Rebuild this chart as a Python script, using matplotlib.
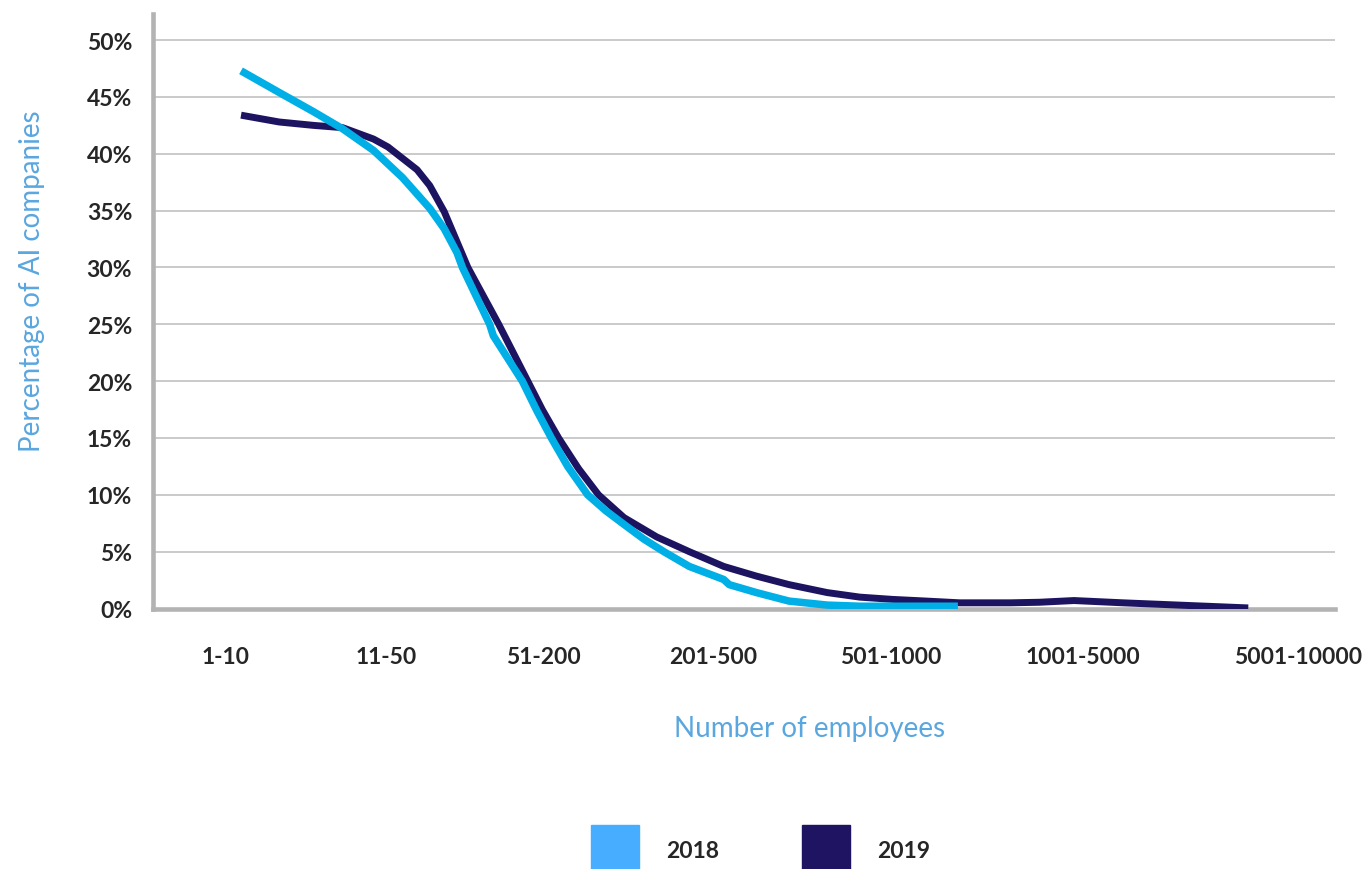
import matplotlib
matplotlib.use('Agg')
import matplotlib.pyplot as plt
from matplotlib.patches import Rectangle

plt.rcParams['font.family'] = ['Lato', 'DejaVu Sans']

# data (x in category-spacing units, y in %)
x_2018 = [0.00, 0.21, 0.40, 0.56, 0.73, 0.89, 1.04, 1.12, 1.19, 1.22, 1.37, 1.39,
          1.55, 1.63, 1.71, 1.80, 1.91, 2.01, 2.11, 2.22, 2.33, 2.47, 2.66, 2.69,
          2.84, 3.02, 3.23, 3.41, 3.95]
y_2018 = [47.3, 45.4, 43.7, 42.2, 40.3, 37.9, 35.2, 33.4, 31.3, 30.0, 25.0, 24.0,
          20.0, 17.4, 15.0, 12.5, 10.0, 8.6, 7.4, 6.1, 5.0, 3.7, 2.55, 2.1,
          1.4, 0.65, 0.3, 0.2, 0.2]

x_2019 = [0.00, 0.21, 0.40, 0.56, 0.73, 0.81, 0.89, 0.97, 1.04, 1.12, 1.25, 1.42,
          1.58, 1.66, 1.75, 1.86, 1.97, 2.11, 2.29, 2.47, 2.66, 2.84, 3.02, 3.23,
          3.41, 3.59, 3.78, 3.96, 4.24, 4.40, 4.59, 4.86, 5.55]
y_2019 = [43.4, 42.8, 42.5, 42.3, 41.3, 40.6, 39.6, 38.6, 37.2, 34.9, 30.0, 25.0,
          20.0, 17.5, 15.0, 12.3, 10.0, 8.0, 6.3, 5.0, 3.7, 2.85, 2.1, 1.4,
          1.0, 0.8, 0.65, 0.5, 0.5, 0.55, 0.7, 0.5, 0.05]

categories = ['1-10', '11-50', '51-200', '201-500', '501-1000', '1001-5000', '5001-10000']
years = ['2018', '2019']

W, H = 1370, 870
fig = plt.figure(figsize=(W / 100, H / 100), dpi=100)
ax = fig.add_axes([153 / W, 1 - 609.5 / H, (1335 - 153) / W, (609.5 - 15) / H])

ax.plot(x_2019, y_2019, color='#1d1461', lw=5.0, solid_capstyle='butt',
        solid_joinstyle='round', zorder=3)
ax.plot(x_2018, y_2018, color='#00afe6', lw=5.4, solid_capstyle='butt',
        solid_joinstyle='round', zorder=4)

ax.set_xlim(-0.485, 6.028)
ax.set_ylim(0, 52.3)

# label positions along the axis (hand placed in the original)
tick_pos = [-0.083, 0.799, 1.669, 2.601, 3.581, 4.639, 5.824]
ax.set_xticks(tick_pos)
ax.set_xticklabels(categories)
ax.set_yticks(range(0, 51, 5))
ax.set_yticklabels([f'{v}%' for v in range(0, 51, 5)])
ax.tick_params(length=0, labelsize=16.5, colors='#262626')
ax.tick_params(axis='y', pad=15)
ax.tick_params(axis='x', pad=27)
for lab in ax.get_xticklabels() + ax.get_yticklabels():
    lab.set_fontweight('bold')

ax.grid(axis='y', color='#c6c6c6', lw=1.3)
ax.set_axisbelow(True)
for s in ['top', 'right']:
    ax.spines[s].set_visible(False)
for s in ['left', 'bottom']:
    ax.spines[s].set_color('#b3b3b3')
    ax.spines[s].set_linewidth(3.3)

fig.text(32 / W, 1 - 281 / H, 'Percentage of AI companies', rotation=90,
         ha='center', va='center', fontsize=20, color='#5aa6df')
fig.text(810 / W, 1 - 729 / H, 'Number of employees', ha='center', va='center',
         fontsize=20, color='#5aa6df')

# legend
swatch = ['#47adff', '#1e1461']
sw_x = [591, 802]
for i, yr in enumerate(years):
    fig.add_artist(Rectangle((sw_x[i] / W, 0), 48 / W, 44 / H,
                             transform=fig.transFigure, color=swatch[i]))
    fig.text((sw_x[i] + 75) / W, 1 - 852 / H, yr, ha='left', va='center',
             fontsize=16.5, fontweight='bold', color='#262626')

fig.savefig('out.png', dpi=100)
